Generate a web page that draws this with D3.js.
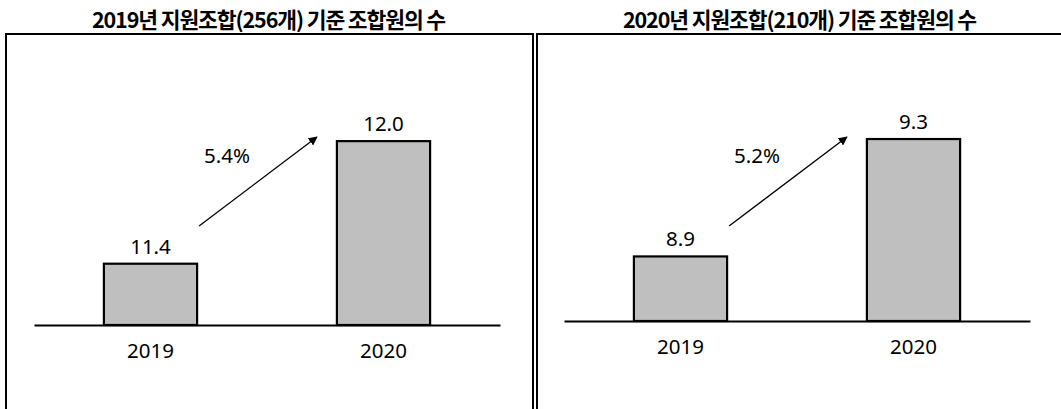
<!DOCTYPE html>
<html>
<head>
<meta charset="utf-8">
<script src="https://cdn.jsdelivr.net/npm/d3@7"></script>
<style>
  html, body { margin: 0; padding: 0; background: #fff; }
  svg { display: block; }
</style>
</head>
<body>
<svg id="chart" width="1061" height="409"></svg>
<script>
// ---- data ----
const years = ["2019", "2020"];
const titles = [
  "2019년 지원조합(256개) 기준 조합원의 수",
  "2020년 지원조합(210개) 기준 조합원의 수"
];
const membersBase2019 = [11.4, 12.0];   // 2019년 지원조합 기준
const membersBase2020 = [8.9, 9.3];     // 2020년 지원조합 기준
const growthLabels = ["5.4%", "5.2%"];
const axisMins = [11.1, 8.68];          // truncated value axis minimum
const axisMaxs = [12.2, 9.4];

// ---- layout ----
const svg = d3.select("#chart");
const panels = [
  { box: [6, 533], xr: [34, 500], base: 325, ppu: 204.3, values: membersBase2019 },
  { box: [537, 1064], xr: [564, 1030], base: 321, ppu: 293.5, values: membersBase2020 }
];
const fmt = d3.format(".1f");

svg.append("defs").append("marker")
  .attr("id", "arrowhead")
  .attr("viewBox", "0 0 10 10")
  .attr("refX", 9).attr("refY", 5)
  .attr("markerWidth", 9).attr("markerHeight", 9)
  .attr("markerUnits", "userSpaceOnUse")
  .attr("orient", "auto")
  .append("path").attr("d", "M0,0 L10,5 L0,10 Z").attr("fill", "#000");

panels.forEach((p, i) => {
  const g = svg.append("g");
  const [bx0, bx1] = p.box;

  // title
  g.append("text")
    .attr("x", (bx0 + bx1) / 2 - 1)
    .attr("y", 28)
    .attr("text-anchor", "middle")
    .attr("font-family", "'Noto Sans CJK KR', sans-serif")
    .attr("font-weight", 700)
    .attr("font-size", 21.5)
    .attr("letter-spacing", -1.1)
    .attr("fill", "#000")
    .text(titles[i]);

  // frame
  g.append("rect")
    .attr("x", bx0).attr("y", 34)
    .attr("width", bx1 - bx0).attr("height", 400)
    .attr("fill", "none").attr("stroke", "#000").attr("stroke-width", 2);

  const x = d3.scaleBand().domain(years).range(p.xr).paddingInner(0.6).paddingOuter(0.3);
  const y = d3.scaleLinear()
    .domain([axisMins[i], axisMaxs[i]])
    .range([p.base, p.base - (axisMaxs[i] - axisMins[i]) * p.ppu]);

  // bars
  g.selectAll("rect.bar").data(years).join("rect")
    .attr("class", "bar")
    .attr("x", d => x(d))
    .attr("width", x.bandwidth())
    .attr("y", (d, j) => y(p.values[j]))
    .attr("height", (d, j) => y(axisMins[i]) - y(p.values[j]))
    .attr("fill", "#bfbfbf")
    .attr("stroke", "#000")
    .attr("stroke-width", 2.2);

  // value labels
  g.selectAll("text.val").data(years).join("text")
    .attr("class", "val")
    .attr("x", d => x(d) + x.bandwidth() / 2)
    .attr("y", (d, j) => y(p.values[j]) - 10)
    .attr("text-anchor", "middle")
    .attr("font-family", "'Noto Sans', sans-serif")
    .attr("font-size", 20.5)
    .attr("fill", "#000")
    .text((d, j) => fmt(p.values[j]));

  // x axis
  const axis = g.append("g")
    .attr("transform", `translate(0,${p.base})`)
    .call(d3.axisBottom(x).tickSize(0).tickPadding(18).tickSizeOuter(0));
  axis.select(".domain").attr("stroke", "#000").attr("stroke-width", 2.2);
  axis.selectAll("text")
    .attr("font-family", "'Noto Sans', sans-serif")
    .attr("font-size", 20.5)
    .attr("fill", "#000")
    .attr("dy", "0.75em");

  // growth arrow
  const ax0 = x(years[0]) + x.bandwidth() + 2;
  const ax1 = x(years[1]) - 20;
  g.append("line")
    .attr("x1", ax0).attr("y1", 226)
    .attr("x2", ax1).attr("y2", 137)
    .attr("stroke", "#000").attr("stroke-width", 1.3)
    .attr("marker-end", "url(#arrowhead)");

  g.append("text")
    .attr("x", x(years[0]) + x.bandwidth() + 30)
    .attr("y", 163)
    .attr("text-anchor", "middle")
    .attr("font-family", "'Noto Sans', sans-serif")
    .attr("font-size", 20.5)
    .attr("fill", "#000")
    .text(growthLabels[i]);
});
</script>
</body>
</html>
